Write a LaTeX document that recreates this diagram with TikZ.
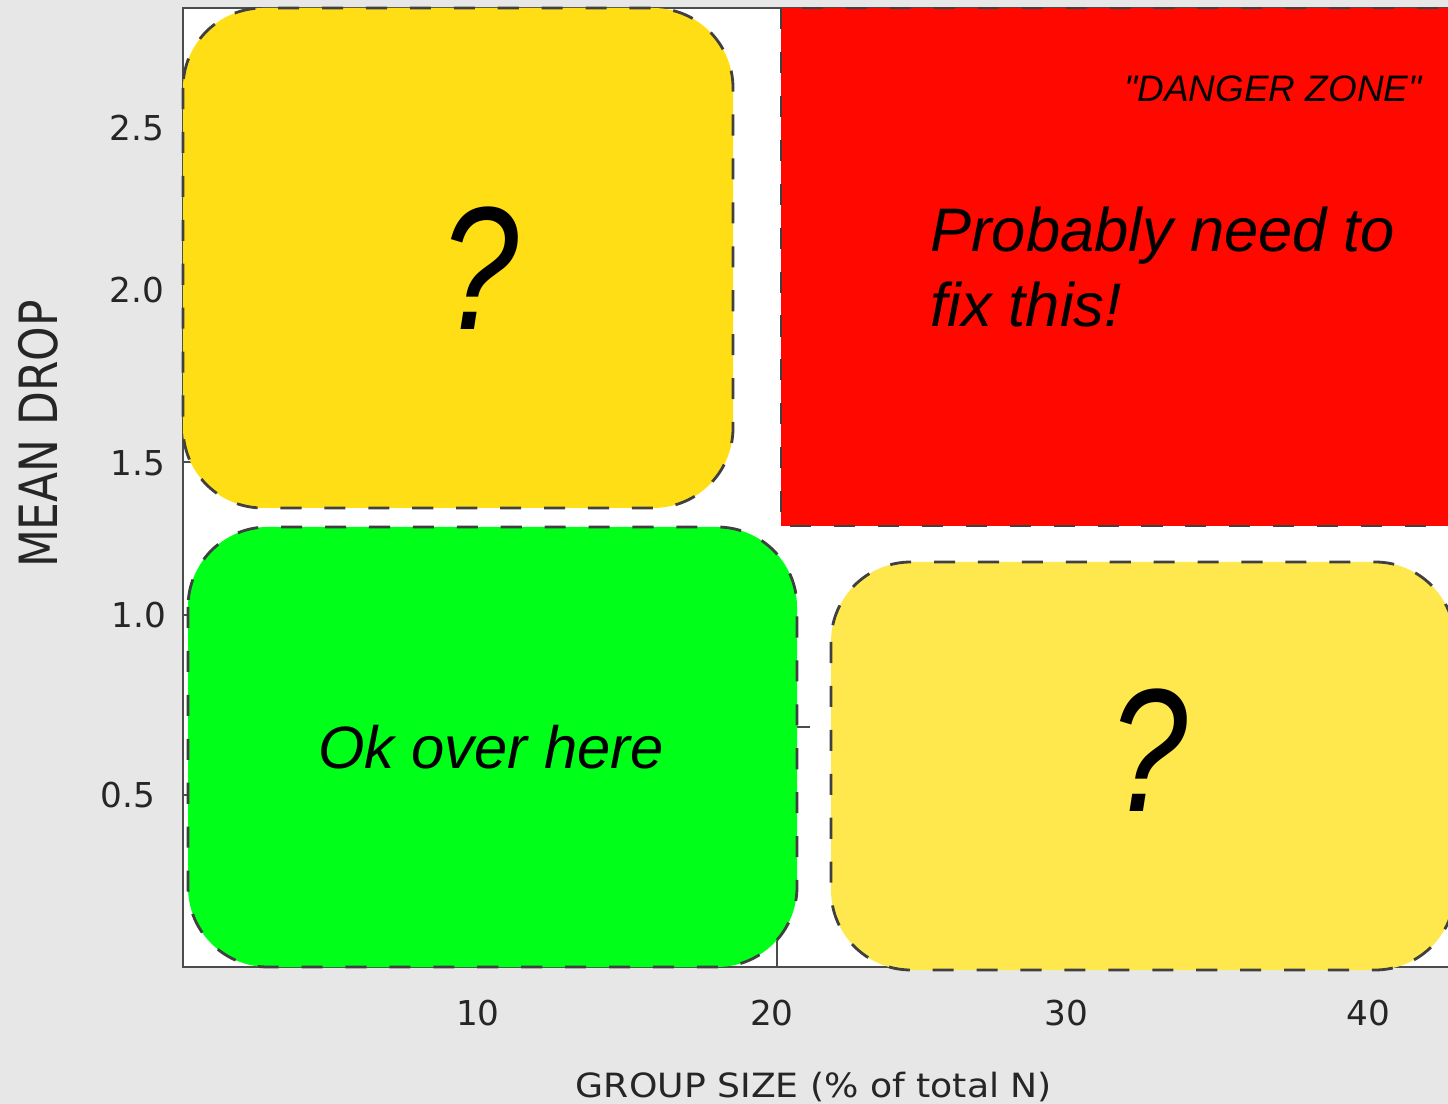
\documentclass[tikz,border=0pt]{standalone}
\usepackage{fontspec}
\usepackage{graphicx}
\setmainfont{Liberation Sans}
\newfontfamily\axisfont{DejaVu Sans}

\definecolor{slidegray}{RGB}{231,231,231}
\definecolor{zoneyellow}{RGB}{255,222,21}
\definecolor{zonered}{RGB}{255,8,0}
\definecolor{zonegreen}{RGB}{0,255,25}
\definecolor{zonelight}{RGB}{255,232,77}

\tikzset{
  zone/.style={draw=black!75, line width=1.6pt, dash pattern=on 12pt off 13pt},
  ticklabel/.style={font=\axisfont\fontsize{19.5pt}{19.5pt}\selectfont, text=black!85},
  bigtext/.style={font=\itshape\fontsize{35pt}{42pt}\selectfont, inner sep=0pt},
  askmark/.style={font=\itshape\fontsize{100pt}{100pt}\selectfont}
}

\begin{document}
\begin{tikzpicture}[x=0.02cm, y=-0.02cm]
% Slide background and plot frame
\useasboundingbox (0,0) rectangle (1448,1104);
\clip (0,0) rectangle (1448,1104);
\fill[slidegray] (0,0) rectangle (1448,1104);
\fill[white] (183,8) rectangle (1470,967);
\draw[black!70, line width=1.1pt] (1470,8) -- (183,8) -- (183,967) -- (1470,967);

% Ticks (mostly hidden behind the zones)
\foreach \ty in {128,290,462,615,795}
  \draw[black!70, line width=1pt] (183,\ty) -- (197,\ty);
\foreach \tx in {474,1066,1368}
  \draw[black!70, line width=1pt] (\tx,967) -- (\tx,953);
\draw[black!70, line width=1pt] (777,967) -- (777,727) -- (810,727);

% Zones
\filldraw[zone, fill=zoneyellow, rounded corners=1.6cm] (183,8) rectangle (733,508);
\filldraw[zone, fill=zonered] (781,8) rectangle (1470,526);
\filldraw[zone, fill=zonegreen, rounded corners=1.6cm] (188,527) rectangle (797,967);
\filldraw[zone, fill=zonelight, rounded corners=1.6cm] (831,562) rectangle (1455,970);

% Zone texts
\node (askleft) [askmark] at (480,268) {\scalebox{0.8}[1]{?}};
\node (askright) [askmark] at (1149,750) {\scalebox{0.8}[1]{?}};
\node (danger) [font=\itshape\fontsize{21pt}{21pt}\selectfont, inner sep=0pt, anchor=base] at (1273,102)
  {\textquotedbl DANGER ZONE\textquotedbl};
\node (probably) [bigtext, anchor=base west] at (930,252) {Probably need to};
\node (fixthis) [bigtext, anchor=base west] at (930,327) {fix this!};
\node (okhere) [bigtext, font=\itshape\fontsize{34pt}{40pt}\selectfont, anchor=base] at (491,768) {Ok over here};

% Axis labels
\foreach \tx/\tl in {478/10, 772/20, 1066/30, 1368/40}
  \node (xtick\tl) [ticklabel] at (\tx,1013) {\tl};
\foreach \lx/\ly/\tl [count=\i] in {137/128/2.5, 137/290/2.0, 138/463/1.5, 139/615/1.0, 128/795/0.5}
  \node (ytick\i) [ticklabel] at (\lx,\ly) {\tl};

\node (xtitle) [font=\axisfont\fontsize{20pt}{20pt}\selectfont, text=black!85, inner sep=0pt, anchor=base] at (814,1097)
  {\scalebox{1.03}[0.95]{GROUP SIZE (\% of total N)}};
\node (ytitle) [font=\axisfont\fontsize{25pt}{25pt}\selectfont, text=black!85, rotate=90] at (38,434)
  {\scalebox{1}[1.2]{MEAN DROP}};
\end{tikzpicture}
\end{document}
